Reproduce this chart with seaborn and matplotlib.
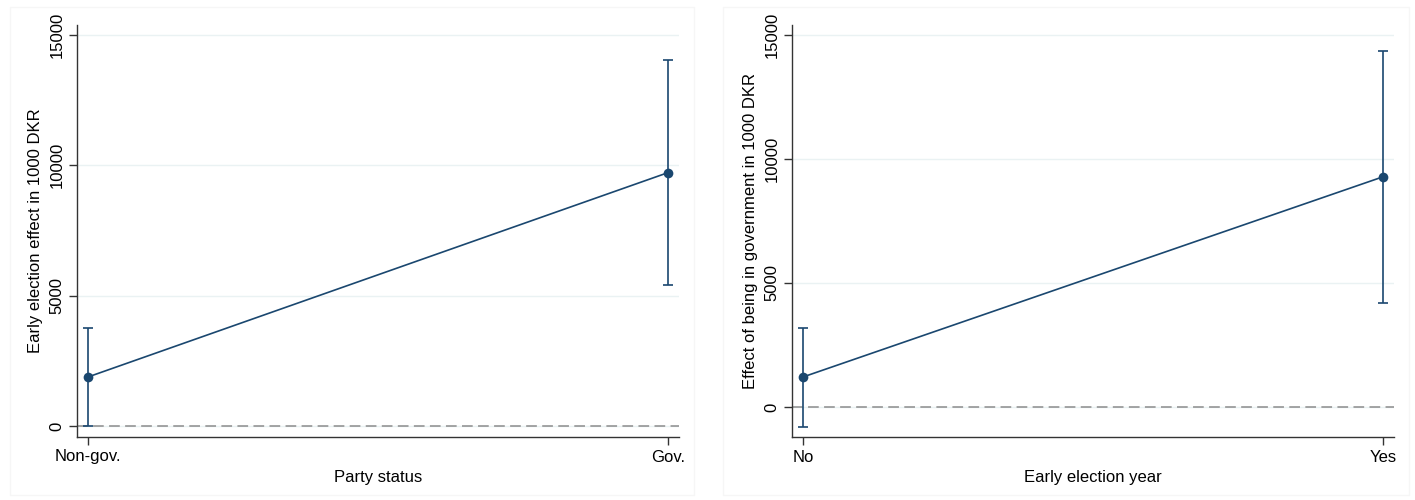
import matplotlib
matplotlib.use('Agg')
import matplotlib.pyplot as plt
import seaborn as sn
from matplotlib.patches import Rectangle

# left panel: early election effect by party status
LEFT_CATS = ['Non-gov.', 'Gov.']
LEFT_EST = [1880, 9720]
LEFT_LO = [0, 5390]
LEFT_HI = [3770, 14040]

# right panel: effect of being in government by early election year
RIGHT_CATS = ['No', 'Yes']
RIGHT_EST = [1210, 9280]
RIGHT_LO = [-800, 4200]
RIGHT_HI = [3190, 14360]

Y_TICKS = [0, 5000, 10000, 15000]
NAVY = '#1a476f'


def draw_panel(ax, cats, est, lo, hi, xlabel, ylabel, ylim):
    pos = list(range(len(cats)))
    ax.set_yticks(Y_TICKS)
    ax.grid(axis='y', color='#eaf2f3', linewidth=1.0, zorder=0)
    ax.grid(axis='x', visible=False)
    ax.axhline(0, color='#8c8c8c', linewidth=1.1, linestyle=(0, (7, 3.5)), zorder=1)

    err = [[e - l for e, l in zip(est, lo)], [h - e for e, h in zip(est, hi)]]
    ax.errorbar(pos, est, yerr=err, fmt='none', ecolor=NAVY, elinewidth=1.2,
                capsize=3.5, capthick=1.2, zorder=2)
    sn.lineplot(x=pos, y=est, ax=ax, color=NAVY, marker='o', markersize=7,
                markeredgewidth=0, linewidth=1.2, zorder=3)

    ax.set_xticks(pos)
    ax.set_xticklabels(cats)
    ax.set_xlim(-0.019, 1.019)
    ax.set_ylim(*ylim)
    ax.set_xlabel(xlabel, fontsize=12, labelpad=4, color='black')
    ax.set_ylabel(ylabel, fontsize=12, labelpad=5, color='black')
    for lab in ax.get_yticklabels():
        lab.set_rotation(90)
        lab.set_va('center')
    ax.tick_params(axis='both', labelsize=12, length=6, width=1, color='#333333',
                   labelcolor='black', direction='out', pad=3,
                   bottom=True, left=True)
    for s in ['top', 'right']:
        ax.spines[s].set_visible(False)
    for s in ['left', 'bottom']:
        ax.spines[s].set_color('#333333')
        ax.spines[s].set_linewidth(1.0)


def main():
    sn.set_style('white')
    plt.rcParams['font.family'] = ['Liberation Sans', 'DejaVu Sans']

    fig = plt.figure(figsize=(14.15, 5), dpi=100)
    fig.patch.set_facecolor('white')
    # faint graph-region frames
    fig.patches.append(Rectangle((10 / 1415, 0.01), 684 / 1415, 0.976, transform=fig.transFigure,
                                 fill=False, edgecolor='#f6f6f6', linewidth=1))
    fig.patches.append(Rectangle((723 / 1415, 0.01), 686 / 1415, 0.976, transform=fig.transFigure,
                                 fill=False, edgecolor='#f6f6f6', linewidth=1))

    ax1 = fig.add_axes([77 / 1415, 0.126, 602 / 1415, 0.824])
    ax2 = fig.add_axes([792 / 1415, 0.126, 602 / 1415, 0.824])

    draw_panel(ax1, LEFT_CATS, LEFT_EST, LEFT_LO, LEFT_HI,
               'Party status', 'Early election effect in 1000 DKR', (-423, 15385))
    draw_panel(ax2, RIGHT_CATS, RIGHT_EST, RIGHT_LO, RIGHT_HI,
               'Early election year', 'Effect of being in government in 1000 DKR', (-1210, 15400))

    plt.savefig('out.png', dpi=100)


if __name__ == '__main__':
    main()
